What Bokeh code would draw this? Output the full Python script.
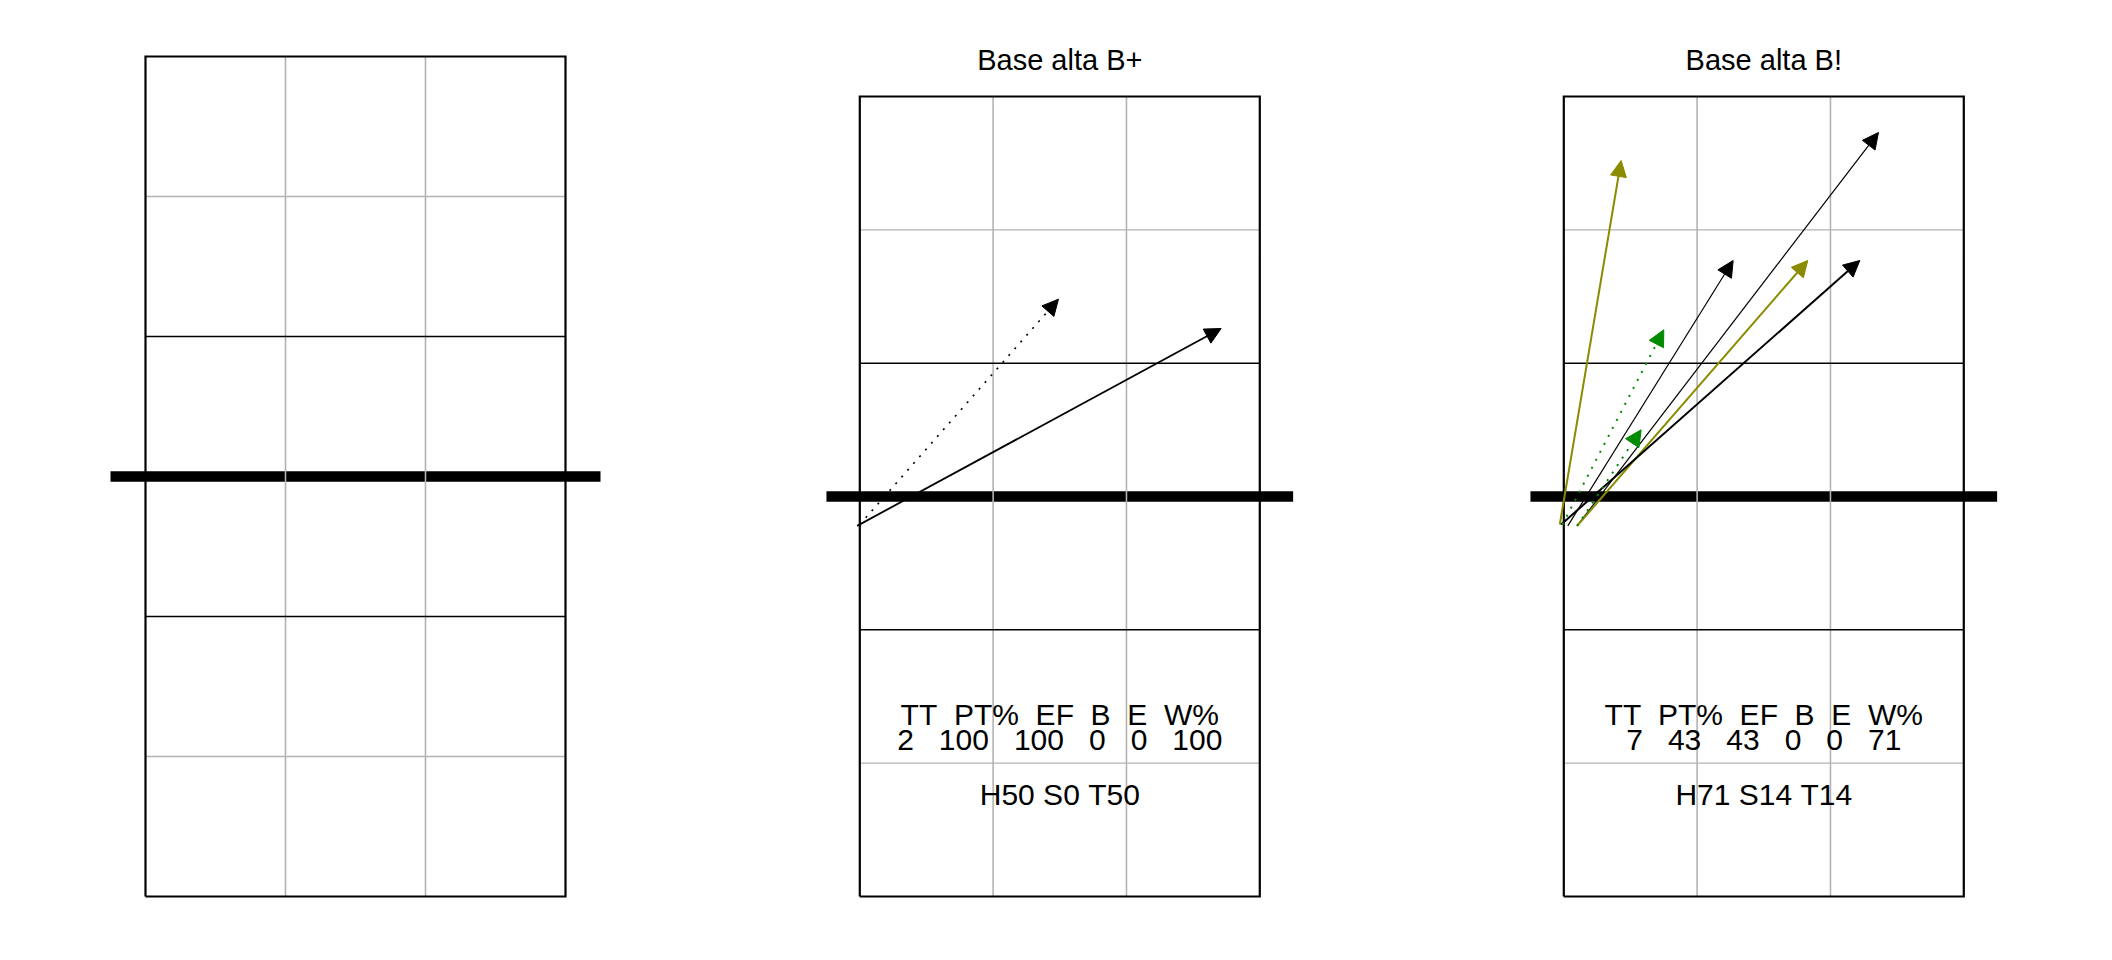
from bokeh.plotting import figure
from bokeh.models import Range1d, Arrow, NormalHead, ColumnDataSource
from bokeh.layouts import row
from bokeh.embed import file_html
from bokeh.resources import INLINE
from bokeh.core.properties import value

# ---------------- data ----------------
titles = ["", "Base alta B+", "Base alta B!"]

# panel 2 attacks (court units)
p2_x0 = [0.48, 0.50]
p2_y0 = [3.28, 3.29]
p2_x1 = [3.21, 1.99]
p2_y1 = [4.76, 4.98]
p2_eval = ["#", "#"]
p2_type = ["H", "T"]

# panel 3 attacks
p3_x0 = [0.47, 0.53, 0.60, 0.60, 0.48, 0.49, 0.60]
p3_y0 = [3.29, 3.28, 3.28, 3.28, 3.29, 3.29, 3.28]
p3_x1 = [0.93, 1.77, 2.86, 2.33, 2.72, 1.25, 1.08]
p3_y1 = [6.02, 5.27, 6.23, 5.27, 5.27, 4.75, 4.00]
p3_eval = ["+", "#", "#", "+", "#", "!", "!"]
p3_type = ["H", "H", "H", "H", "H", "S", "T"]

stat_names = ["TT", "PT%", "EF", "B", "E", "W%"]
p2_stats = [2, 100, 100, 0, 0, 100]
p3_stats = [7, 43, 43, 0, 0, 71]
hst_names = ["H", "S", "T"]
p2_hst = [50, 0, 50]
p3_hst = [71, 14, 14]

# ---------------- styles ----------------
FONT = value("Liberation Sans")
NB = "\u00a0"
EVAL_COLOR = {"#": "black", "+": "#8B8B00", "!": "#008B00"}
TYPE_DASH = {"H": "solid", "S": "2 7", "T": "2 7"}
p2_width = [1.8, 1.7]
p3_width = [2.0, 1.2, 1.2, 2.0, 2.0, 2.0, 2.0]
GREY = "#B3B3B3"


def make_fig(w, xr, yr):
    p = figure(width=w, height=944, x_range=Range1d(*xr), y_range=Range1d(*yr),
               output_backend="svg", toolbar_location=None,
               x_axis_location=None, y_axis_location=None, min_border=0)
    p.grid.visible = False
    p.outline_line_color = None
    p.background_fill_color = "white"
    p.border_fill_color = "white"
    return p


def draw_court(p):
    # net
    p.segment(x0=[0.25], y0=[3.5], x1=[3.75], y1=[3.5], line_color="black",
              line_width=10.5, line_cap="butt")
    # grey grid
    p.segment(x0=[1.5, 2.5], y0=[0.5, 0.5], x1=[1.5, 2.5], y1=[6.5, 6.5],
              line_color=GREY, line_width=1.6)
    p.segment(x0=[0.5, 0.5], y0=[1.5, 5.5], x1=[3.5, 3.5], y1=[1.5, 5.5],
              line_color=GREY, line_width=1.4)
    # attack lines
    p.segment(x0=[0.5, 0.5], y0=[2.5, 4.5], x1=[3.5, 3.5], y1=[2.5, 4.5],
              line_color="black", line_width=1.5)
    # outer border
    p.multi_line(xs=[[0.5, 3.5, 3.5, 0.5, 0.5]], ys=[[0.5, 0.5, 6.5, 6.5, 0.5]],
                 line_color="black", line_width=2.2, line_join="miter")


def draw_arrows(p, x0, y0, x1, y1, evals, types, widths):
    for i in range(len(x0)):
        src = ColumnDataSource(dict(xs=[x0[i]], ys=[y0[i]], xe=[x1[i]], ye=[y1[i]]))
        col = EVAL_COLOR[evals[i]]
        head = NormalHead(size=16, fill_color=col, line_color=col, line_width=1)
        p.add_layout(Arrow(x_start="xs", y_start="ys", x_end="xe", y_end="ye",
                           source=src, end=head, line_color=col,
                           line_width=widths[i], line_dash=TYPE_DASH[types[i]]))


def draw_texts(p, title, stats, hst):
    p.text(x=[2.0], y=[6.775], text=[title], text_font=FONT, text_font_size="29px",
           text_align="center", text_baseline="alphabetic", text_color="black")
    header = (NB * 2).join(stat_names)
    vals = (NB * 3).join(str(v) for v in stats)
    hline = NB.join(f"{n}{v}" for n, v in zip(hst_names, hst))
    p.text(x=[2.0, 2.0, 2.0], y=[1.863, 1.675, 1.267], text=[header, vals, hline],
           text_font=FONT, text_font_size="30px", text_align="center",
           text_baseline="alphabetic", text_color="black")


# panel 1: empty court
f1 = make_fig(696, (-0.53571, 4.43571), (0.15714, 6.9))
draw_court(f1)

# panel 2
f2 = make_fig(704, (-0.72475, 4.55531), (0.13997, 7.2201))
draw_court(f2)
draw_texts(f2, titles[1], p2_stats, p2_hst)
draw_arrows(f2, p2_x0, p2_y0, p2_x1, p2_y1, p2_eval, p2_type, p2_width)

# panel 3
f3 = make_fig(696, (-0.72475, 4.49535), (0.13997, 7.2201))
draw_court(f3)
draw_texts(f3, titles[2], p3_stats, p3_hst)
draw_arrows(f3, p3_x0, p3_y0, p3_x1, p3_y1, p3_eval, p3_type, p3_width)

layout = row(f1, f2, f3)
open("out.html", "w").write(file_html(layout, INLINE))
